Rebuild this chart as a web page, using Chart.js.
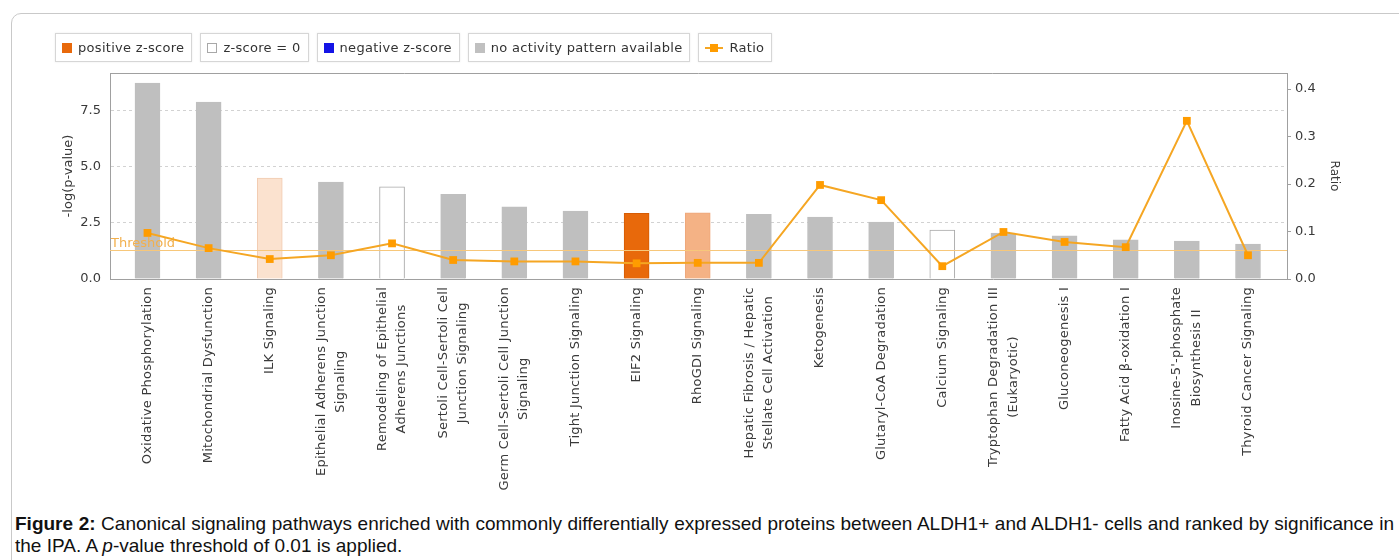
<!DOCTYPE html>
<html>
<head>
<meta charset="utf-8">
<script src="https://cdn.jsdelivr.net/npm/chart.js@4"></script>
<style>
  html, body { margin: 0; padding: 0; background: #fff; }
  body { width: 1399px; height: 560px; position: relative; overflow: hidden; }
  .frame { position: absolute; left: 11px; top: 13px; width: 1500px; height: 700px;
           border: 1px solid #c9c9c9; border-radius: 10px; box-sizing: border-box; }
  #chartWrap { position: absolute; left: 0; top: 0; width: 1399px; height: 490px; }
  .legend { position: absolute; left: 55px; top: 33px; display: flex; gap: 8px;
            font: 13px "DejaVu Sans", sans-serif; letter-spacing: 0.3px; color: #333; }
  .legend .item { height: 29px; box-sizing: border-box; border: 1px solid #d6d6d6;
                  display: flex; align-items: center; padding: 0 7px 0 6px;
                  box-shadow: 0 0 2px rgba(0,0,0,0.08); background: #fff; }
  .legend .sw { width: 10px; height: 10px; margin-right: 6px; box-sizing: border-box; }
  .legend .ratioMark { position: relative; width: 18px; height: 10px; margin-right: 6px; }
  .legend .ratioMark::before { content: ""; position: absolute; left: 0; right: 0; top: 4px;
                               height: 2px; background: #f5a623; }
  .legend .ratioMark::after { content: ""; position: absolute; left: 5px; top: 1px;
                              width: 8px; height: 8px; background: #ff9c00; }
  .caption { position: absolute; left: 15px; top: 513px; width: 1379px;
             font: 19px "Liberation Sans", Arial, sans-serif; line-height: 22px; color: #111; }
  .caption .l1 { text-align: justify; text-align-last: justify; white-space: nowrap; }
  .caption .l2 { white-space: nowrap; }
</style>
</head>
<body>
<div class="frame"></div>
<div id="chartWrap"><canvas id="c" width="1399" height="490"></canvas></div>
<div class="legend" id="legend"></div>
<div class="caption">
  <div class="l1"><b>Figure 2:</b> Canonical signaling pathways enriched with commonly differentially expressed proteins between ALDH1+ and ALDH1- cells and ranked by significance in</div>
  <div class="l2">the IPA. A <i>p</i>-value threshold of 0.01 is applied.</div>
</div>
<script>
// Canonical pathways, in rank order
const pathways = [
  "Oxidative Phosphorylation",
  "Mitochondrial Dysfunction",
  "ILK Signaling",
  ["Epithelial Adherens Junction", "Signaling"],
  ["Remodeling of Epithelial", "Adherens Junctions"],
  ["Sertoli Cell-Sertoli Cell", "Junction Signaling"],
  ["Germ Cell-Sertoli Cell Junction", "Signaling"],
  "Tight Junction Signaling",
  "EIF2 Signaling",
  "RhoGDI Signaling",
  ["Hepatic Fibrosis / Hepatic", "Stellate Cell Activation"],
  "Ketogenesis",
  "Glutaryl-CoA Degradation",
  "Calcium Signaling",
  ["Tryptophan Degradation III", "(Eukaryotic)"],
  "Gluconeogenesis I",
  "Fatty Acid \u03B2-oxidation I",
  ["Inosine-5'-phosphate", "Biosynthesis II"],
  "Thyroid Cancer Signaling"
];

// -log(p-value) per pathway
const negLogP = [8.73, 7.88, 4.50, 4.32, 4.11, 3.77, 3.22, 3.03, 2.93, 2.95,
                 2.88, 2.76, 2.54, 2.18, 2.05, 1.92, 1.74, 1.69, 1.56];

// Ratio of pathway molecules found in the dataset
const ratios = [0.097, 0.065, 0.042, 0.050, 0.075, 0.040, 0.037, 0.037, 0.033, 0.034,
                0.034, 0.198, 0.166, 0.027, 0.099, 0.078, 0.067, 0.333, 0.050];

// Activity pattern per pathway: na = none available, zero = z-score 0, pos1..pos3 = positive z-score strength
const activity = ["na", "na", "pos1", "na", "zero", "na", "na", "na", "pos3", "pos2",
                  "na", "na", "na", "zero", "na", "na", "na", "na", "na"];

// -log(p) threshold
const threshold = 1.3;

// Left and right axis tick labels
const leftTicks = ["0.0", "2.5", "5.0", "7.5"];
const rightTicks = ["0.0", "0.1", "0.2", "0.3", "0.4"];

const legendItems = ["positive z-score", "z-score = 0", "negative z-score", "no activity pattern available", "Ratio"];

// ---- styles ----
const fills = { na: "#bfbfbf", zero: "#ffffff", pos1: "#fbe2cf", pos2: "#f4b285", pos3: "#e8690b" };
const edges = { na: "#bfbfbf", zero: "#a8a8a8", pos1: "#f1cbb0", pos2: "#eea77a", pos3: "#d65c05" };
const legendSwatch = [
  { bg: "#e8690b", bd: "#e8690b" },
  { bg: "#ffffff", bd: "#a8a8a8" },
  { bg: "#1414e6", bd: "#1414e6" },
  { bg: "#c0c0c0", bd: "#c0c0c0" },
  null
];

// HTML legend
const legendEl = document.getElementById("legend");
legendItems.forEach((name, i) => {
  const item = document.createElement("div");
  item.className = "item";
  const mark = document.createElement("span");
  if (legendSwatch[i]) {
    mark.className = "sw";
    mark.style.background = legendSwatch[i].bg;
    mark.style.border = "1px solid " + legendSwatch[i].bd;
  } else {
    mark.className = "ratioMark";
  }
  item.appendChild(mark);
  const t = document.createElement("span");
  t.textContent = name;
  item.appendChild(t);
  legendEl.appendChild(item);
});

const axisGray = "#a0a0a0";
const textGray = "#3a3a3a";
const xMin = -0.613, xMax = 18.638;
const leftMax = 9.18, rightMax = 0.4337;

// Threshold line drawn under the ratio line
const thresholdPlugin = {
  id: "threshold",
  beforeDatasetDraw(chart, args) {
    if (args.index !== 1) return;
    const { ctx, chartArea } = chart;
    const y = Math.round(chart.scales.y.getPixelForValue(threshold)) + 0.5;
    ctx.save();
    ctx.strokeStyle = "#f7c77a";
    ctx.lineWidth = 1;
    ctx.beginPath();
    ctx.moveTo(chartArea.left, y);
    ctx.lineTo(chartArea.right, y);
    ctx.stroke();
    ctx.fillStyle = "#f2b04e";
    ctx.font = '13px "DejaVu Sans", sans-serif';
    ctx.textAlign = "left";
    ctx.textBaseline = "alphabetic";
    ctx.fillText("Threshold", chartArea.left + 1, y - 4);
    ctx.restore();
  }
};

// Top frame line of the plot area
const framePlugin = {
  id: "frameTop",
  afterDraw(chart) {
    const { ctx, chartArea } = chart;
    ctx.save();
    ctx.strokeStyle = axisGray;
    ctx.lineWidth = 1;
    ctx.beginPath();
    ctx.moveTo(chartArea.left, Math.round(chartArea.top) + 0.5);
    ctx.lineTo(chartArea.right, Math.round(chartArea.top) + 0.5);
    ctx.stroke();
    ctx.restore();
  }
};

// Rotated category labels, each multi-line block centred line by line
const categoryLabels = {
  id: "categoryLabels",
  afterDraw(chart) {
    const { ctx } = chart;
    const xs = chart.scales.x;
    const top = xs.top + 8;
    const lh = 19.5;
    ctx.save();
    ctx.font = '13px "DejaVu Sans", sans-serif';
    if ("letterSpacing" in ctx) ctx.letterSpacing = "0.25px";
    ctx.fillStyle = textGray;
    ctx.textAlign = "center";
    ctx.textBaseline = "middle";
    pathways.forEach((lab, i) => {
      const lines = Array.isArray(lab) ? lab : [lab];
      const maxW = Math.max(...lines.map(l => ctx.measureText(l).width));
      const cx = xs.getPixelForValue(i);
      ctx.save();
      ctx.translate(cx, top);
      ctx.rotate(-Math.PI / 2);
      lines.forEach((l, k) => {
        const off = (k - (lines.length - 1) / 2) * lh;
        ctx.fillText(l, -maxW / 2, off);
      });
      ctx.restore();
    });
    ctx.restore();
  }
};

new Chart(document.getElementById("c"), {
  data: {
    datasets: [
      {
        type: "bar",
        label: "-log(p-value)",
        data: negLogP.map((v, i) => ({ x: i, y: v })),
        backgroundColor: activity.map(a => fills[a]),
        borderColor: activity.map(a => edges[a]),
        borderWidth: 1,
        barThickness: 25,
        yAxisID: "y",
        order: 2
      },
      {
        type: "line",
        label: "Ratio",
        data: ratios.map((v, i) => ({ x: i, y: v })),
        borderColor: "#f5a623",
        borderWidth: 2,
        pointStyle: "rect",
        pointRadius: 5.5,
        pointBackgroundColor: "#ff9c00",
        pointBorderColor: "#ff9c00",
        pointBorderWidth: 0,
        tension: 0,
        yAxisID: "y1",
        order: 1
      }
    ]
  },
  options: {
    responsive: false,
    animation: false,
    layout: { padding: { left: 61, right: 58, top: 73, bottom: 0 } },
    plugins: { legend: { display: false }, tooltip: { enabled: false } },
    scales: {
      x: {
        type: "linear",
        min: xMin,
        max: xMax,
        offset: false,
        ticks: { display: false, stepSize: 1, includeBounds: false },
        grid: { display: true, drawOnChartArea: false, drawTicks: false },
        border: { display: true, color: axisGray, width: 1 },
        afterFit(s) { s.height = 490 - 279; }
      },
      y: {
        position: "left",
        min: 0,
        max: leftMax,
        ticks: {
          stepSize: 2.5,
          includeBounds: false,
          padding: 9,
          color: textGray,
          font: { family: "DejaVu Sans", size: 13 },
          callback: (v, i) => leftTicks[i]
        },
        grid: {
          drawTicks: false,
          color: ctx => (ctx.tick && ctx.tick.value === 0 ? "rgba(0,0,0,0)" : "#d2d2d2"),
          lineWidth: 1
        },
        border: { display: true, color: axisGray, width: 1, dash: [3, 3] },
        title: {
          display: true,
          text: "-log(p-value)",
          color: textGray,
          font: { family: "DejaVu Sans", size: 13 },
          padding: 0
        },
        afterFit(s) { s.width = 49; }
      },
      y1: {
        position: "right",
        min: 0,
        max: rightMax,
        ticks: {
          stepSize: 0.1,
          includeBounds: false,
          padding: 4,
          color: textGray,
          font: { family: "DejaVu Sans", size: 13 },
          callback: (v, i) => rightTicks[i]
        },
        grid: { drawOnChartArea: false, drawTicks: true, tickLength: 4, color: axisGray },
        border: { display: true, color: axisGray, width: 1 },
        title: {
          display: true,
          text: "Ratio",
          color: textGray,
          font: { family: "DejaVu Sans", size: 12 },
          padding: 0
        },
        afterFit(s) { s.width = 54; }
      }
    }
  },
  plugins: [thresholdPlugin, framePlugin, categoryLabels]
});
</script>
</body>
</html>
